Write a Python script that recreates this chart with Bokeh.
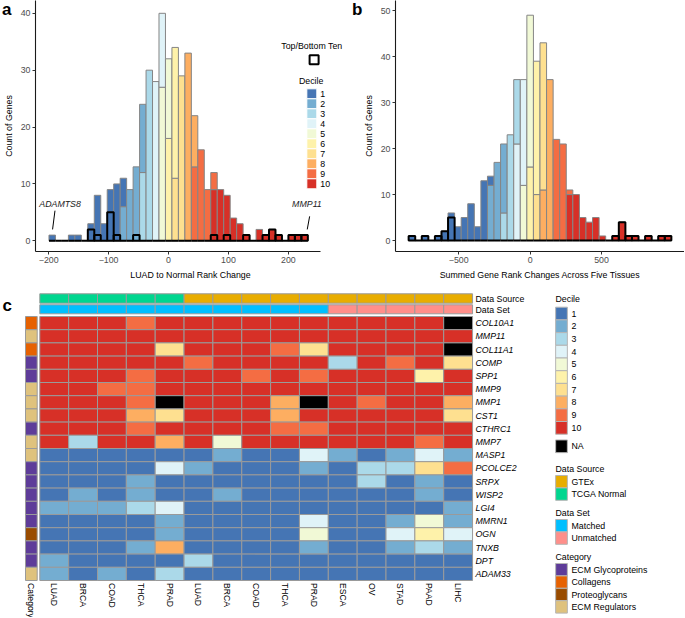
import math
from bokeh.plotting import figure
from bokeh.models import Range1d, FixedTicker, ColumnDataSource, Div
from bokeh.layouts import column, row
from bokeh.embed import file_html
from bokeh.resources import INLINE
from bokeh.core.properties import value

FONT = "Liberation Sans"
FS = "8.8px"
DECILE_COLORS = ["#4575B4", "#74ADD1", "#ABD9E9", "#E0F3F8", "#F1F9D6",
                 "#FEF2AA", "#FEE090", "#FDAE61", "#F46D43", "#D73027"]
DECILE_LABELS = ["1", "2", "3", "4", "5", "6", "7", "8", "9", "10"]

# ---------------- Panel a data ----------------
a_bin_left = [-199.5, -188.7, -177.9, -167.1, -156.3, -145.5, -134.7, -123.9, -113.1, -102.3,
              -91.5, -80.7, -69.9, -59.1, -48.3, -37.5, -26.7, -15.9, -5.1, 5.7,
              16.5, 27.3, 38.1, 48.9, 59.7, 70.5, 81.3, 92.1, 102.9, 113.7,
              124.5, 135.3, 146.1, 156.9, 167.7, 178.5, 189.3, 200.1, 210.9, 221.7]
a_bin_width = 10.8
a_seg_bin = [0, 3, 4, 6, 7, 8, 9, 10, 11, 11, 12, 13, 14, 14, 15, 16, 17, 17, 18, 18, 19, 19,
             20, 21, 22, 22, 23, 24, 25, 25, 26, 27, 28, 29, 30, 32, 33, 34, 35, 37, 38, 39]
a_seg_decile = [1, 1, 1, 1, 1, 1, 1, 1, 1, 2, 2, 2, 2, 3, 3, 4, 4, 5, 5, 6, 6, 7,
                7, 8, 8, 9, 9, 9, 9, 10, 10, 10, 10, 10, 10, 10, 10, 10, 10, 10, 10, 10]
a_seg_count = [1, 1, 1, 3, 8, 3, 9, 10, 5, 6, 9, 13, 12, 12, 30, 28, 13, 27, 14, 18, 23, 11,
               29, 33, 9, 13, 16, 9, 3, 9, 9, 8, 4, 3, 1, 2, 1, 2, 1, 1, 1, 1]
a_topbottom_count = [0, 0, 0, 0, 0, 0, 2, 1, 0, 5, 1, 0, 0, 1, 0, 0, 0, 0, 0, 0,
                     0, 0, 0, 0, 0, 1, 0, 1, 0, 0, 1, 0, 0, 1, 2, 1, 0, 1, 1, 1]
a_xticks = [-200, -100, 0, 100, 200]
a_yticks = [0, 10, 20, 30, 40]

# ---------------- Panel b data ----------------
b_bin_left = [-851, -805, -759, -713, -667, -621, -575, -529, -483, -437,
              -391, -345, -299, -253, -207, -161, -115, -69, -23, 23,
              69, 115, 161, 207, 253, 299, 345, 391, 437, 483,
              529, 575, 621, 667, 713, 759, 805, 851, 897, 943]
b_bin_width = 46
b_seg_bin = [0, 2, 4, 5, 6, 7, 8, 9, 10, 11, 12, 12, 13, 14, 14, 15, 16, 16, 17, 17, 18, 18,
             19, 19, 20, 20, 21, 22, 23, 24, 24, 25, 26, 27, 28, 29, 31, 32, 33, 34, 36, 38, 39]
b_seg_decile = [1, 1, 1, 1, 1, 1, 1, 1, 1, 1, 1, 2, 2, 2, 3, 3, 3, 4, 4, 5, 5, 6,
                6, 7, 7, 8, 8, 9, 9, 9, 10, 10, 10, 10, 10, 10, 10, 10, 10, 10, 10, 10, 10]
b_seg_count = [1, 1, 1, 2, 6, 3, 5, 8, 3, 13, 2, 12, 17, 15, 6, 23, 14, 21, 23, 12, 33, 16,
               29, 10, 32, 11, 35, 22, 21, 1, 10, 10, 5, 4, 5, 1, 1, 4, 1, 1, 1, 1, 1]
b_topbottom_count = [1, 0, 1, 0, 1, 2, 5, 0, 0, 0, 0, 0, 0, 0, 0, 0, 0, 0, 0, 0,
                     0, 0, 0, 0, 0, 0, 0, 0, 0, 0, 0, 1, 4, 1, 1, 0, 1, 0, 1, 1]
b_xticks = [-500, 0, 500]
b_yticks = [0, 10, 20, 30, 40, 50]

# ---------------- Panel c data ----------------
tissues = ["LUAD", "BRCA", "COAD", "THCA", "PRAD", "LUAD", "BRCA", "COAD", "THCA", "PRAD",
           "ESCA", "OV", "STAD", "PAAD", "LIHC"]
data_source = ["TCGA Normal"] * 5 + ["GTEx"] * 10
data_set = ["Matched"] * 10 + ["Unmatched"] * 5
genes = ["COL10A1", "MMP11", "COL11A1", "COMP", "SPP1", "MMP9", "MMP1", "CST1", "CTHRC1", "MMP7",
         "MASP1", "PCOLCE2", "SRPX", "WISP2", "LGI4", "MMRN1", "OGN", "TNXB", "DPT", "ADAM33"]
gene_category = ["Collagens", "ECM Regulators", "Collagens", "ECM Glycoproteins", "ECM Glycoproteins",
                 "ECM Regulators", "ECM Regulators", "ECM Regulators", "ECM Glycoproteins", "ECM Regulators",
                 "ECM Regulators", "ECM Glycoproteins", "ECM Glycoproteins", "ECM Glycoproteins",
                 "ECM Glycoproteins", "ECM Glycoproteins", "Proteoglycans", "ECM Glycoproteins",
                 "ECM Glycoproteins", "ECM Regulators"]
NA = None
heat_deciles = [
    [10, 10, 10, 9, 10, 10, 10, 10, 10, 10, 10, 10, 10, 10, NA],
    [10, 10, 10, 10, 10, 10, 10, 10, 10, 10, 10, 10, 10, 10, 10],
    [10, 10, 10, 10, 7, 10, 10, 10, 9, 7, 10, 10, 10, 10, NA],
    [10, 10, 10, 10, 10, 9, 10, 10, 10, 10, 3, 10, 9, 10, 7],
    [10, 10, 10, 9, 10, 10, 10, 9, 10, 9, 10, 10, 10, 6, 10],
    [10, 10, 9, 9, 10, 10, 10, 10, 10, 10, 10, 10, 10, 10, 10],
    [10, 10, 10, 9, NA, 10, 10, 10, 8, NA, 10, 9, 10, 10, 8],
    [10, 10, 10, 8, 7, 10, 10, 10, 8, 10, 10, 10, 10, 10, 7],
    [10, 10, 10, 9, 10, 10, 10, 10, 9, 9, 10, 10, 10, 10, 10],
    [10, 3, 10, 10, 8, 10, 5, 10, 10, 10, 10, 10, 10, 9, 10],
    [1, 1, 1, 1, 1, 1, 2, 1, 1, 4, 2, 1, 2, 4, 2],
    [1, 1, 1, 1, 4, 2, 1, 1, 1, 2, 1, 3, 3, 7, 9],
    [1, 1, 1, 2, 1, 1, 1, 1, 1, 1, 1, 3, 1, 2, 1],
    [1, 2, 1, 2, 1, 1, 2, 1, 1, 1, 1, 1, 1, 2, 1],
    [2, 2, 2, 3, 4, 1, 1, 1, 1, 1, 1, 1, 1, 1, 2],
    [1, 1, 1, 1, 2, 1, 1, 1, 1, 4, 1, 1, 2, 5, 2],
    [1, 1, 1, 1, 2, 1, 1, 1, 1, 5, 1, 1, 4, 6, 4],
    [1, 1, 1, 2, 8, 1, 1, 1, 1, 2, 1, 1, 2, 3, 2],
    [2, 1, 1, 1, 1, 3, 1, 1, 1, 1, 1, 1, 1, 1, 1],
    [2, 1, 2, 1, 3, 1, 1, 1, 1, 1, 1, 1, 1, 1, 1],
]
SOURCE_COLORS = {"GTEx": "#E8AD00", "TCGA Normal": "#00D68F"}
SET_COLORS = {"Matched": "#00BFFF", "Unmatched": "#FF8F8A"}
CATEGORY_COLORS = {"ECM Glycoproteins": "#5E3C99", "Collagens": "#E66101",
                   "Proteoglycans": "#994C00", "ECM Regulators": "#DFC27D"}
NA_COLOR = "#000000"
GRID = "#9A9A9A"


def stacked(bin_left, width, seg_bin, seg_dec, seg_cnt):
    left, right, bottom, top, color = [], [], [], [], []
    base = {}
    order = sorted(range(len(seg_bin)), key=lambda i: (seg_bin[i], -seg_dec[i]))
    for i in order:
        b = seg_bin[i]
        y0 = base.get(b, 0)
        left.append(bin_left[b])
        right.append(bin_left[b] + width)
        bottom.append(y0)
        top.append(y0 + seg_cnt[i])
        color.append(DECILE_COLORS[seg_dec[i] - 1])
        base[b] = y0 + seg_cnt[i]
    return ColumnDataSource(dict(left=left, right=right, bottom=bottom, top=top, color=color))


def style_axes(p):
    p.xgrid.visible = False
    p.ygrid.visible = False
    p.outline_line_color = None
    p.background_fill_alpha = 0
    p.border_fill_alpha = 0
    for ax in p.axis:
        ax.axis_line_color = "#1a1a1a"
        ax.axis_line_width = 1.1
        ax.major_tick_line_color = "#333333"
        ax.major_tick_out = 3
        ax.major_tick_in = 0
        ax.minor_tick_line_color = None
        ax.major_label_text_font = FONT
        ax.major_label_text_font_size = FS
        ax.major_label_text_color = "#4d4d4d"
        ax.axis_label_text_font = FONT
        ax.axis_label_text_font_size = FS
        ax.axis_label_text_font_style = "normal"
        ax.axis_label_text_color = "black"
        ax.major_label_standoff = 2
        ax.axis_label_standoff = 4


def minus_overrides(ticks):
    return {t: ("\u2212" + str(abs(t)) if t < 0 else str(t)) for t in ticks}


def histogram_panel(p, bin_left, width, seg_bin, seg_dec, seg_cnt, tb):
    src = stacked(bin_left, width, seg_bin, seg_dec, seg_cnt)
    p.quad(left="left", right="right", bottom="bottom", top="top", fill_color="color",
           line_color="#858585", line_width=1, source=src)
    p.quad(left=bin_left, right=[v + width for v in bin_left], bottom=[0] * len(tb), top=tb,
           fill_color=None, line_color="black", line_width=2)


# ---------------- Panel a ----------------
AX_PX = 0.605                    # px per unit on x
AX0 = -222.0
FA_W, FA_H = 313, 251
AX1 = AX0 + FA_W / AX_PX
AY0, AY1 = -1.88, 42.25
pa = figure(width=345, height=283, x_range=Range1d(AX0, AX1), y_range=Range1d(AY0, AY1),
            output_backend="svg", toolbar_location=None,
            min_border_left=32, min_border_right=0, min_border_top=0, min_border_bottom=32)
histogram_panel(pa, a_bin_left, a_bin_width, a_seg_bin, a_seg_decile, a_seg_count, a_topbottom_count)
style_axes(pa)
pa.xaxis.ticker = FixedTicker(ticks=a_xticks)
pa.xaxis.major_label_overrides = minus_overrides(a_xticks)
pa.xaxis.bounds = (AX0, 254)
pa.yaxis.ticker = FixedTicker(ticks=a_yticks)
pa.xaxis.axis_label = "LUAD to Normal Rank Change"
pa.yaxis.axis_label = "Count of Genes"


def ax_(fx):
    return AX0 + fx * (AX1 - AX0) / FA_W


def ay_(fy):
    return AY1 - fy * (AY1 - AY0) / FA_H


# gene call-outs (data coordinates)
pa.text(x=[-181, 231], y=[6.5, 6.5], text=["ADAMTS8", "MMP11"], text_font=value(FONT),
        text_font_size=FS, text_font_style="italic", text_align="center",
        text_baseline="middle", text_color="#1a1a1a")
pa.segment(x0=[-189.5, 235.5], y0=[5.3, 4.3], x1=[-193.5, 231.5], y1=[2.0, 2.0],
           line_color="black", line_width=1)

# legends for panel a (frame-relative pixel positions)
pa.text(x=[ax_(279)], y=[ay_(45)], text=["Top/Bottom Ten"], text_font=value(FONT),
        text_font_size=FS, text_align="center", text_baseline="middle", text_color="black")
pa.rect(x=[ax_(281.3)], y=[ay_(59.3)], width=9, height=9, width_units="screen",
        height_units="screen", fill_color="white", line_color="black", line_width=2)
pa.text(x=[ax_(266)], y=[ay_(80.7)], text=["Decile"], text_font=value(FONT),
        text_font_size=FS, text_align="left", text_baseline="middle", text_color="black")
key_y = [ay_(93.3 + 10 * i) for i in range(10)]
pa.rect(x=[ax_(279)] * 10, y=key_y, width=10, height=10, width_units="screen",
        height_units="screen", fill_color=DECILE_COLORS, line_color="white", line_width=1)
pa.text(x=[ax_(287.5)] * 10, y=key_y, text=DECILE_LABELS, text_font=value(FONT),
        text_font_size=FS, text_align="left", text_baseline="middle", text_color="black")

# ---------------- Panel b ----------------
BX0, BX1 = -943.0, 1081.0
BY0, BY1 = -2.38, 52.2
pb = figure(width=339, height=283, x_range=Range1d(BX0, BX1), y_range=Range1d(BY0, BY1),
            output_backend="svg", toolbar_location=None,
            min_border_left=50, min_border_right=0, min_border_top=0, min_border_bottom=30)
histogram_panel(pb, b_bin_left, b_bin_width, b_seg_bin, b_seg_decile, b_seg_count, b_topbottom_count)
style_axes(pb)
pb.xaxis.ticker = FixedTicker(ticks=b_xticks)
pb.xaxis.major_label_overrides = minus_overrides(b_xticks)
pb.yaxis.ticker = FixedTicker(ticks=b_yticks)
pb.xaxis.axis_label = "Summed Gene Rank Changes Across Five Tissues"
pb.yaxis.axis_label = "Count of Genes"

# panel letters a / b (real text, laid over the top row)
letter_style = "position:absolute;top:0px;font-family:'Liberation Sans',Arial,sans-serif;" \
               "font-weight:bold;font-size:17px;line-height:20px;color:black;"
letters = Div(text='<div style="position:relative;width:684px;height:22px;">'
                   '<span style="' + letter_style + 'left:2px;">a</span>'
                   '<span style="' + letter_style + 'left:352px;">b</span></div>',
              width=684, height=22, margin=(0, 0, -22, 0), styles={"z-index": "10"})

# ---------------- Panel c ----------------
PC_W, PC_H = 684, 334
PC_TOP = 283.0     # page y of the figure top
CW, RH = 28.85, 13.2
X0 = -39.3 / CW
Y1 = (316.0 - PC_TOP) / RH
pc = figure(width=PC_W, height=PC_H, x_range=Range1d(X0, X0 + PC_W / CW),
            y_range=Range1d(Y1 - PC_H / RH, Y1), output_backend="svg", toolbar_location=None,
            min_border=0, x_axis_type=None, y_axis_type=None)
pc.xgrid.visible = False
pc.ygrid.visible = False
pc.outline_line_color = None


def hx(px):
    return X0 + px / CW


def hy(py):
    return Y1 - (py - PC_TOP) / RH


# heatmap cells
cx, cy, ccol = [], [], []
for r, vals in enumerate(heat_deciles):
    for c, v in enumerate(vals):
        cx.append(c + 0.5)
        cy.append(-(r + 0.5))
        ccol.append(NA_COLOR if v is None else DECILE_COLORS[v - 1])
pc.rect(x=cx, y=cy, width=1, height=1, fill_color=ccol, line_color=GRID, line_width=1)

# top annotations
ncol = len(tissues)
pc.quad(left=list(range(ncol)), right=[c + 1 for c in range(ncol)], bottom=[hy(302.7)] * ncol,
        top=[hy(293.3)] * ncol, fill_color=[SOURCE_COLORS[s] for s in data_source],
        line_color=GRID, line_width=1)
pc.quad(left=list(range(ncol)), right=[c + 1 for c in range(ncol)], bottom=[hy(313.3)] * ncol,
        top=[hy(304.3)] * ncol, fill_color=[SET_COLORS[s] for s in data_set],
        line_color=GRID, line_width=1)
pc.text(x=[hx(475)] * 2, y=[hy(298), hy(309)], text=["Data Source", "Data Set"],
        text_font=value(FONT), text_font_size=FS, text_align="left", text_baseline="middle",
        text_color="black")

# category annotation
nrow = len(genes)
pc.quad(left=[hx(25)] * nrow, right=[hx(36.7)] * nrow, bottom=[-(r + 1) for r in range(nrow)],
        top=[-r for r in range(nrow)], fill_color=[CATEGORY_COLORS[g] for g in gene_category],
        line_color=GRID, line_width=1)

# row labels
pc.text(x=[hx(475)] * nrow, y=[-(r + 0.5) for r in range(nrow)], text=genes,
        text_font=value(FONT), text_font_size=FS, text_font_style="italic",
        text_align="left", text_baseline="middle", text_color="black")
# column labels
pc.text(x=[c + 0.5 for c in range(ncol)] + [hx(30.8)], y=[hy(582.5)] * (ncol + 1),
        text=tissues + ["Category"], angle=-math.pi / 2, text_font=value(FONT),
        text_font_size="8.6px", text_align="left", text_baseline="middle", text_color="black")
pc.text(x=[hx(2)], y=[hy(305)], text=["c"], text_font=value(FONT), text_font_size="17px",
        text_font_style="bold", text_align="left", text_baseline="middle", text_color="black")

# legends for panel c
LX_T, LX_S, LX_L = 555, 561, 571


def legend_block(title, title_y, labels, colors, centers, h):
    pc.text(x=[hx(LX_T)], y=[hy(title_y)], text=[title], text_font=value(FONT),
            text_font_size=FS, text_align="left", text_baseline="middle", text_color="black")
    pc.rect(x=[hx(LX_S)] * len(labels), y=[hy(v) for v in centers], width=11.7, height=h,
            width_units="screen", height_units="screen", fill_color=colors,
            line_color="#B5B5B5", line_width=1)
    pc.text(x=[hx(LX_L)] * len(labels), y=[hy(v) for v in centers], text=labels,
            text_font=value(FONT), text_font_size=FS, text_align="left",
            text_baseline="middle", text_color="black")


legend_block("Decile", 298, DECILE_LABELS, DECILE_COLORS,
             [313.05 + 12.7 * i for i in range(10)], 12.7)
pc.rect(x=[hx(LX_S)], y=[hy(445.8)], width=11.7, height=12.7, width_units="screen",
        height_units="screen", fill_color=NA_COLOR, line_color="#B5B5B5", line_width=1)
pc.text(x=[hx(LX_L)], y=[hy(445.8)], text=["NA"], text_font=value(FONT), text_font_size=FS,
        text_align="left", text_baseline="middle", text_color="black")
legend_block("Data Source", 468.3, ["GTEx", "TCGA Normal"],
             [SOURCE_COLORS["GTEx"], SOURCE_COLORS["TCGA Normal"]], [481.2, 493.6], 12.4)
legend_block("Data Set", 512.7, ["Matched", "Unmatched"],
             [SET_COLORS["Matched"], SET_COLORS["Unmatched"]], [525.2, 537.6], 12.4)
cat_names = ["ECM Glycoproteins", "Collagens", "Proteoglycans", "ECM Regulators"]
legend_block("Category", 556.7, cat_names, [CATEGORY_COLORS[n] for n in cat_names],
             [569.2, 581.6, 594.0, 606.4], 12.4)

layout = column(letters, row(pa, pb, spacing=0), pc, spacing=0)
open("out.html", "w").write(file_html(layout, INLINE))
